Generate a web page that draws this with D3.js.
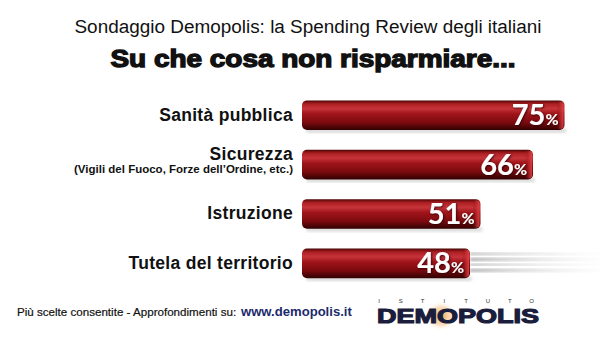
<!DOCTYPE html>
<html><head><meta charset="utf-8">
<script src="https://cdn.jsdelivr.net/npm/d3@7"></script>
<style>
html,body{margin:0;padding:0;background:#fff;}
svg{display:block;}
</style></head>
<body>
<svg id="chart" width="600" height="341"></svg>
<script>
const categories = ["Sanità pubblica", "Sicurezza", "Istruzione", "Tutela del territorio"];
const subLabels = ["", "(Vigili del Fuoco, Forze dell’Ordine, etc.)", "", ""];
const values = [75, 66, 51, 48];
const title = "Sondaggio Demopolis: la Spending Review degli italiani";
const subtitle = "Su che cosa non risparmiare...";
const footnote = "Più scelte consentite - Approfondimenti su:";
const site = "www.demopolis.it";

const svg = d3.select("#chart");
const defs = svg.append("defs");

const x = d3.scaleLinear().domain([0, 100]).range([302, 652]);
const y = d3.scaleBand().domain(categories).range([90.5, 288]).paddingInner(0.4).paddingOuter(0.2);

// gradients
const g = defs.append("linearGradient").attr("id","barGrad").attr("x1",0).attr("y1",0).attr("x2",0).attr("y2",1);
[[0,"#4a0404"],[0.12,"#ad1f23"],[0.28,"#c6343a"],[0.45,"#a0141a"],[0.75,"#7a0a0e"],[1,"#300101"]]
  .forEach(([o,c])=>g.append("stop").attr("offset",o).attr("stop-color",c));
const cap = defs.append("linearGradient").attr("id","capGrad").attr("x1",0).attr("y1",0).attr("x2",1).attr("y2",0);
[[0,"#8a0c10",0],[0.5,"#c02a2e",0.6],[1,"#e04548",0.9]].forEach(([o,c,a])=>cap.append("stop").attr("offset",o).attr("stop-color",c).attr("stop-opacity",a));
const streak = defs.append("linearGradient").attr("id","streak").attr("x1",0).attr("y1",0).attr("x2",1).attr("y2",0);
[[0,"#9a9a9a",0.9],[0.5,"#c4c4c4",0.6],[1,"#e8e8e8",0.15]].forEach(([o,c,a])=>streak.append("stop").attr("offset",o).attr("stop-color",c).attr("stop-opacity",a));
const sh = defs.append("filter").attr("id","txtShadow").attr("x","-20%").attr("y","-20%").attr("width","140%").attr("height","140%");
sh.append("feDropShadow").attr("dx",1).attr("dy",1).attr("stdDeviation",1).attr("flood-color","#200000").attr("flood-opacity",0.8);
defs.append("filter").attr("id","blur").append("feGaussianBlur").attr("stdDeviation",1.5);

// titles
svg.append("text").attr("x",308).attr("y",33).attr("text-anchor","middle")
  .attr("font-family","'Liberation Sans', Arial, sans-serif").attr("font-size",18).attr("fill","#111")
  .attr("textLength",467).attr("lengthAdjust","spacingAndGlyphs")
  .text(title);
svg.append("text").attr("x",313).attr("y",67).attr("text-anchor","middle")
  .attr("font-family","'Liberation Sans', Arial, sans-serif").attr("font-weight","bold").attr("font-size",23)
  .attr("fill","#111").attr("stroke","#111").attr("stroke-width",1.3)
  .attr("textLength",405).attr("lengthAdjust","spacingAndGlyphs")
  .text(subtitle);

// streak on last bar
const last = categories.length - 1;
const sg = svg.append("g");
[0.18,0.35,0.55,0.72].forEach((f,i)=>{
  sg.append("rect").attr("x",x(values[last])).attr("y",y(categories[last]) + y.bandwidth()*f - 1)
    .attr("width",600 - x(values[last])).attr("height", i%2?3:2).attr("fill","url(#streak)").attr("filter","url(#blur)");
});

// shadows beneath bars
svg.append("g").selectAll("rect").data(values).join("rect")
  .attr("x",()=>x(0)+4).attr("y",(d,i)=>y(categories[i])+y.bandwidth()-2)
  .attr("width",d=>x(d)-x(0)-2).attr("height",5).attr("rx",3)
  .attr("fill","#bbb").attr("opacity",0.5).attr("filter","url(#blur)");

// bars
const bars = svg.append("g").selectAll("g").data(values).join("g");
bars.append("rect")
  .attr("x",x(0)).attr("y",(d,i)=>y(categories[i]))
  .attr("width",d=>x(d)-x(0)).attr("height",y.bandwidth())
  .attr("rx",5).attr("ry",5)
  .attr("fill","url(#barGrad)");
bars.append("rect")
  .attr("x",d=>x(d)-8).attr("y",(d,i)=>y(categories[i])+1)
  .attr("width",7).attr("height",y.bandwidth()-2).attr("rx",3)
  .attr("fill","url(#capGrad)");

// value labels
const vt = bars.append("text")
  .attr("x",d=>x(d)-6).attr("y",(d,i)=>y(categories[i])+y.bandwidth()/2+10)
  .attr("text-anchor","end").attr("fill","#fff").attr("filter","url(#txtShadow)")
  .attr("font-family","Lato, 'Open Sans', sans-serif").attr("font-weight","bold");
vt.append("tspan").attr("font-size",29).text(d=>d);
vt.append("tspan").attr("font-size",16).text("%");

// category labels
svg.append("g").selectAll("text").data(categories).join("text")
  .attr("x",293).attr("text-anchor","end")
  .attr("font-family","'Liberation Sans', Arial, sans-serif").attr("font-weight","bold").attr("fill","#111")
  .attr("font-size",17.5).attr("letter-spacing",0.3)
  .attr("y",(d,i)=> y(d)+y.bandwidth()/2 + (subLabels[i] ? -4.5 : 5.5))
  .text(d=>d);
svg.append("g").selectAll("text").data(subLabels.filter(s=>s)).join("text")
  .attr("x",293).attr("text-anchor","end")
  .attr("font-family","'Liberation Sans', Arial, sans-serif").attr("font-weight","bold").attr("fill","#111")
  .attr("font-size",11.5)
  .attr("y",d=>{const i=subLabels.indexOf(d); return y(categories[i])+y.bandwidth()/2+8;})
  .text(d=>d);

// footer
svg.append("text").attr("x",17).attr("y",316)
  .attr("font-family","'Liberation Sans', Arial, sans-serif").attr("font-size",11.6).attr("fill","#111")
  .attr("stroke","#111").attr("stroke-width",0.2)
  .text(footnote);
svg.append("text").attr("x",241).attr("y",316)
  .attr("font-family","'Liberation Sans', Arial, sans-serif").attr("font-weight","bold").attr("font-size",13.1).attr("fill","#1c2a6b")
  .text(site);

// logo
const rg = defs.append("radialGradient").attr("id","glow");
rg.append("stop").attr("offset",0).attr("stop-color","#f0a040").attr("stop-opacity",0.95);
rg.append("stop").attr("offset",0.6).attr("stop-color","#f5c080").attr("stop-opacity",0.5);
rg.append("stop").attr("offset",1).attr("stop-color","#fff").attr("stop-opacity",0);
svg.append("ellipse").attr("cx",441).attr("cy",316).attr("rx",16).attr("ry",15).attr("fill","url(#glow)");
svg.append("text").attr("x",458).attr("y",323).attr("text-anchor","middle")
  .attr("font-family","'Liberation Sans', Arial, sans-serif").attr("font-weight","bold").attr("font-size",21)
  .attr("fill","#1b1d3c").attr("stroke","#1b1d3c").attr("stroke-width",1.2)
  .attr("textLength",162).attr("lengthAdjust","spacingAndGlyphs")
  .text("DEMOPOLIS");
const ist = "ISTITUTO".split("");
svg.append("g").selectAll("text").data(ist).join("text")
  .attr("x",(d,i)=>379 + i*21.8).attr("y",303).attr("text-anchor","middle")
  .attr("font-family","'Liberation Sans', Arial, sans-serif").attr("font-size",6).attr("fill","#333")
  .text(d=>d);
</script>
</body></html>
